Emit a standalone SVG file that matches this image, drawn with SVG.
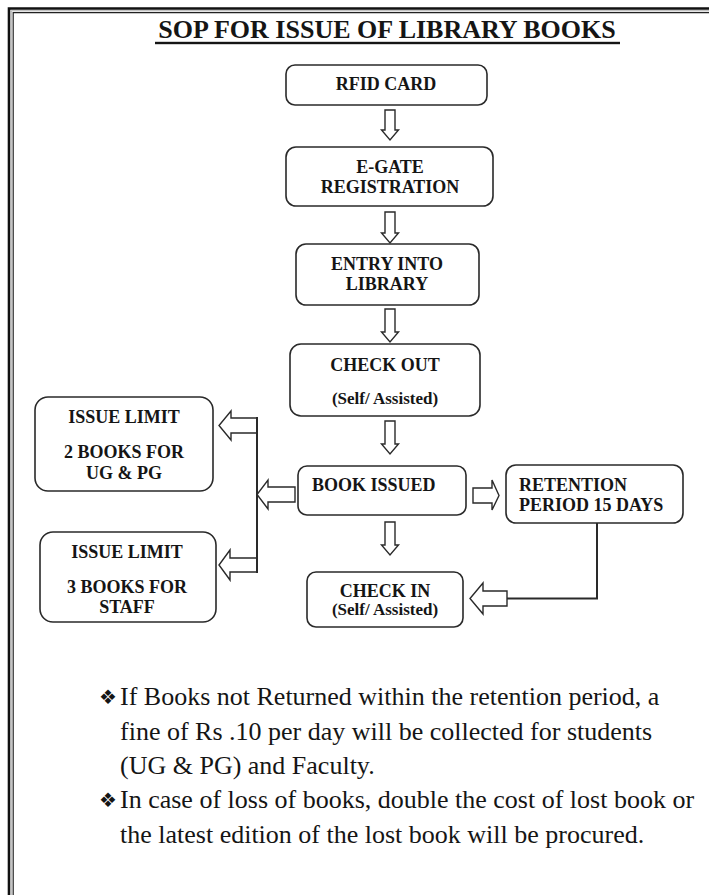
<svg xmlns="http://www.w3.org/2000/svg" width="709" height="895" viewBox="0 0 709 895">
<style>
.box{fill:#fff;stroke:#2a2a2a;stroke-width:1.6}
.arr{fill:#fff;stroke:#2a2a2a;stroke-width:1.4;stroke-linejoin:miter}
.ln{fill:none;stroke:#2a2a2a;stroke-width:2}
.t{font-family:"Liberation Serif","Times New Roman",serif;font-weight:bold;font-size:18px;fill:#151515;text-anchor:middle}
.tl{text-anchor:start}
.s{font-size:17px}
.b{font-family:"Liberation Serif","Times New Roman",serif;font-size:26px;fill:#151515}
.bul{font-family:"DejaVu Sans",sans-serif;font-size:20px;fill:#151515}
</style>
<rect width="709" height="895" fill="#fff"/>
<g id="frame">
<path d="M709 8.5 H9 V895" fill="none" stroke="#111" stroke-width="2.6"/>
<path d="M709 10.8 H11.2 V895" fill="none" stroke="#aaa" stroke-width="1"/>
<path d="M709 12.6 H13.2 V895" fill="none" stroke="#222" stroke-width="1.2"/>
</g>
<g id="title">
<text x="387" y="38" class="t" style="font-size:26px">SOP FOR ISSUE OF LIBRARY BOOKS</text>
<rect x="155" y="41.8" width="465" height="2.4" fill="#151515"/>
</g>
<g id="rfid">
<rect class="box" x="286" y="65" width="201" height="40" rx="9"/>
<text class="t" x="386" y="90">RFID CARD</text>
</g>
<g id="egate">
<rect class="box" x="286" y="147" width="207" height="59" rx="10"/>
<text class="t" x="390" y="173">E-GATE</text>
<text class="t" x="390" y="193">REGISTRATION</text>
</g>
<g id="entry">
<rect class="box" x="296" y="244" width="183" height="61" rx="10"/>
<text class="t" x="387" y="270">ENTRY INTO</text>
<text class="t" x="387" y="290">LIBRARY</text>
</g>
<g id="checkout">
<rect class="box" x="290" y="344" width="190" height="72" rx="11"/>
<text class="t" x="385" y="371">CHECK OUT</text>
<text class="t s" x="385" y="404">(Self/ Assisted)</text>
</g>
<g id="issue-limit-1">
<rect class="box" x="35" y="397" width="178" height="94" rx="13"/>
<text class="t" x="124" y="423">ISSUE LIMIT</text>
<text class="t" x="124" y="458">2 BOOKS FOR</text>
<text class="t" x="124" y="479">UG &amp; PG</text>
</g>
<g id="book-issued">
<rect class="box" x="298" y="466" width="168" height="49" rx="9"/>
<text class="t tl" x="312" y="491">BOOK ISSUED</text>
</g>
<g id="retention">
<rect class="box" x="506" y="465" width="177" height="58" rx="10"/>
<text class="t tl" x="519" y="490.5">RETENTION</text>
<text class="t tl" x="519" y="511">PERIOD 15 DAYS</text>
</g>
<g id="issue-limit-2">
<rect class="box" x="40" y="532" width="176" height="90" rx="13"/>
<text class="t" x="127" y="558">ISSUE LIMIT</text>
<text class="t" x="127" y="593">3 BOOKS FOR</text>
<text class="t" x="127" y="613">STAFF</text>
</g>
<g id="checkin">
<rect class="box" x="307" y="572" width="156" height="55" rx="9"/>
<text class="t" x="385" y="597">CHECK IN</text>
<text class="t s" x="385" y="615">(Self/ Assisted)</text>
</g>
<g id="connectors">
<polygon class="arr" points="385,110 395,110 395,130 398.5,130 390,140 381.5,130 385,130"/>
<polygon class="arr" points="385,212 395,212 395,233 398.5,233 390,243 381.5,233 385,233"/>
<polygon class="arr" points="385,309 395,309 395,332 398.5,332 390,342 381.5,332 385,332"/>
<polygon class="arr" points="385,421 395,421 395,444 398.5,444 390,454 381.5,444 385,444"/>
<polygon class="arr" points="385,522 395,522 395,545 398.5,545 390,555 381.5,545 385,545"/>
<polygon class="arr" points="257,418 231,418 231,411 219,425.5 231,440 231,433 257,433"/>
<polygon class="arr" points="257,558 230,558 230,550 219,565 230,580 230,572 257,572"/>
<polygon class="arr" points="295,487 268,487 268,480 257,494.5 268,509 268,502 295,502"/>
<polygon class="arr" points="473,488 492,488 492,480 499,495.5 492,510 492,503 473,503"/>
<polygon class="arr" points="507,591 483,591 483,583 470,598.5 483,614 483,606 507,606"/>
<line class="ln" x1="257" y1="417" x2="257" y2="573"/>
<polyline class="ln" points="597,523 597,598.5 507,598.5"/>
</g>
<g id="notes">
<text class="bul" x="99" y="704">❖</text>
<text class="b" x="120" y="705">If Books not Returned within the retention period, a</text>
<text class="b" x="120" y="740">fine of Rs .10 per day will be collected for students</text>
<text class="b" x="120" y="774">(UG &amp; PG) and Faculty.</text>
<text class="bul" x="99" y="807">❖</text>
<text class="b" x="120" y="808">In case of loss of books, double the cost of lost book or</text>
<text class="b" x="120" y="843">the latest edition of the lost book will be procured.</text>
</g>
</svg>
